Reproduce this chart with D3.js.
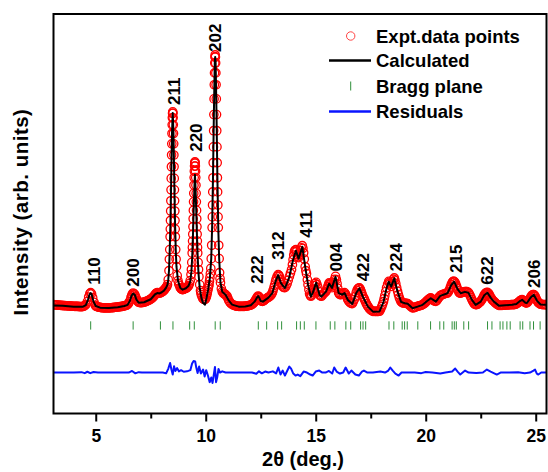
<!DOCTYPE html>
<html><head><meta charset="utf-8">
<script src="https://cdn.jsdelivr.net/npm/d3@7"></script>
<style>
body{margin:0;background:#fff;}
text{font-family:Arial,"Liberation Sans",sans-serif;font-weight:bold;fill:#000;}
</style></head>
<body><svg id="chart" width="548" height="472"></svg>
<script>
// ---------- DATA ----------
const obsPoints = [
[3.08,2900],[3.12,2895],[3.15,2890],[3.2,2885],[3.25,2880],[3.3,2875],[3.35,2870],[3.4,2865],[3.45,2860],[3.5,2855],[3.55,2850],[3.6,2848],[3.65,2845],[3.7,2842],[3.75,2840],[3.8,2835],[3.85,2830],[3.9,2825],[3.95,2820],[4.0,2818],
[4.05,2815],[4.1,2812],[4.15,2810],[4.2,2808],[4.25,2805],[4.3,2802],[4.35,2800],[4.4,2805],[4.45,2820],[4.5,2850],[4.55,2900],[4.62,3050],[4.68,3280],[4.73,3450],[4.77,3500],
[4.81,3440],[4.86,3250],[4.92,3020],[4.98,2870],[5.02,2820],[5.05,2800],[5.1,2785],[5.15,2770],[5.2,2760],[5.25,2750],[5.3,2745],[5.35,2740],[5.4,2738],[5.45,2735],[5.5,2735],[5.55,2735],
[5.6,2738],[5.65,2740],[5.7,2745],[5.75,2750],[5.8,2755],[5.85,2760],[5.9,2768],[5.95,2775],[6.0,2782],[6.05,2790],[6.1,2798],[6.15,2805],[6.2,2815],[6.25,2825],[6.3,2838],[6.35,2850],[6.4,2870],[6.45,2900],[6.49,2960],[6.53,3050],
[6.6,3250],[6.63,3340],[6.66,3420],[6.7,3480],[6.75,3440],[6.78,3380],[6.81,3300],[6.84,3210],[6.88,3120],[6.91,3060],[6.95,3020],[7.0,3005],[7.05,3000],[7.1,3003],[7.15,3010],[7.2,3025],[7.25,3040],[7.3,3065],
[7.35,3090],[7.4,3115],[7.45,3140],[7.5,3180],[7.55,3220],[7.6,3270],[7.65,3330],[7.69,3390],[7.72,3440],[7.76,3480],[7.8,3500],[7.84,3490],[7.88,3480],[7.92,3485],[7.96,3500],[8.0,3530],[8.04,3560],[8.07,3590],[8.1,3620],[8.13,3660],
[8.16,3700],[8.19,3750],[8.228,3800],[8.262,3900],[8.296,4150],[8.33,4600],[8.347,5170],[8.364,5655],[8.381,6297],[8.39,6683],[8.398,7114],
[8.407,7587],[8.415,8100],[8.424,8646],[8.432,9219],[8.441,9805],[8.449,10390],[8.458,10950],[8.466,11470],[8.475,11900],[8.483,12257],
[8.492,12480],[8.5,12550],[8.508,12480],[8.517,12257],[8.526,11900],[8.534,11470],[8.543,10950],[8.551,10390],[8.56,9805],[8.568,9219],
[8.577,8646],[8.585,8100],[8.594,7587],[8.602,7114],[8.611,6683],[8.619,6297],[8.636,5655],[8.653,5170],[8.67,4800],[8.704,4350],
[8.738,4100],[8.772,3950],[8.8,3870],[8.84,3750],[8.87,3710],[8.9,3680],[8.92,3665],[8.95,3650],[8.97,3660],[9.0,3680],[9.03,3695],[9.06,3710],[9.1,3720],[9.125,3740],[9.15,3760],[9.19,3800],[9.222,3850],
[9.258,3950],[9.294,4100],[9.33,4403],[9.348,4660],[9.366,5014],[9.384,5483],[9.393,5765],[9.402,6080],[9.411,6426],[9.42,6800],
[9.429,7199],[9.438,7617],[9.447,8045],[9.456,8472],[9.465,8880],[9.474,9261],[9.483,9580],[9.492,9836],[9.501,9990],[9.51,10050],
[9.519,9990],[9.528,9836],[9.537,9580],[9.546,9261],[9.555,8880],[9.564,8472],[9.573,8045],[9.582,7617],[9.591,7199],[9.6,6800],
[9.609,6426],[9.618,6080],[9.627,5765],[9.636,5483],[9.654,5014],[9.672,4660],[9.69,4300],[9.726,3900],[9.762,3600],[9.78,3500],[9.798,3400],[9.83,3300],
[9.87,3200],[9.91,3170],[9.95,3150],[9.98,3180],[10.0,3220],[10.03,3300],[10.05,3390],[10.07,3480],[10.09,3590],[10.11,3700],[10.13,3800],[10.15,3900],[10.17,4070],[10.19,4250],[10.21,4450],[10.23,4715],
[10.25,5201],[10.27,5871],[10.29,6758],[10.3,7292],[10.31,7887],[10.32,8542],[10.33,9250],[10.34,10005],[10.35,10796],[10.36,11607],
[10.37,12415],[10.38,13200],[10.39,13907],[10.4,14500],[10.41,14995],[10.42,15300],[10.43,15400],[10.44,15300],[10.45,14995],[10.46,14500],
[10.47,13907],[10.48,13200],[10.49,12415],[10.5,11607],[10.51,10796],[10.52,10005],[10.53,9250],[10.54,8542],[10.55,7887],[10.56,7292],
[10.57,6758],[10.59,5871],[10.61,5201],[10.63,4500],[10.65,4200],[10.67,4000],[10.71,3700],[10.75,3550],[10.79,3480],[10.83,3450],[10.86,3430],
[10.9,3400],[10.93,3360],[10.97,3320],[11.01,3210],[11.05,3100],[11.1,3020],[11.15,2950],[11.2,2910],[11.25,2880],[11.3,2860],[11.35,2840],[11.4,2830],[11.45,2820],[11.5,2815],[11.55,2810],[11.6,2810],[11.65,2810],[11.7,2812],[11.75,2815],
[11.8,2822],[11.85,2830],[11.9,2840],[11.95,2850],[12.0,2865],[12.05,2880],[12.1,2910],[12.15,2950],[12.19,3000],[12.22,3050],[12.26,3120],[12.3,3200],[12.34,3270],[12.38,3330],[12.41,3300],[12.44,3250],[12.47,3170],
[12.5,3100],[12.54,3075],[12.58,3060],[12.62,3085],[12.66,3120],[12.7,3160],[12.75,3200],[12.8,3235],[12.85,3270],[12.9,3305],[12.95,3350],[12.99,3420],[13.03,3500],[13.06,3610],[13.1,3750],[13.13,3880],[13.17,4050],[13.2,4180],
[13.24,4300],[13.29,4400],[13.32,4370],[13.35,4300],[13.38,4170],[13.42,4000],[13.46,3890],[13.5,3800],[13.55,3760],[13.6,3750],[13.65,3830],[13.7,3950],[13.75,4120],[13.8,4300],[13.85,4470],[13.9,4650],[13.94,4900],[13.97,5150],
[14.0,5380],[14.03,5550],[14.06,5620],[14.1,5650],[14.13,5560],[14.16,5400],[14.19,5300],[14.22,5250],[14.26,5400],[14.3,5600],[14.34,5740],[14.39,5850],[14.42,5720],[14.45,5500],[14.48,5180],[14.52,4800],[14.55,4600],[14.58,4450],
[14.62,4150],[14.65,3900],[14.69,3650],[14.72,3450],[14.75,3370],[14.78,3320],[14.82,3380],[14.87,3500],[14.91,3680],[14.95,3850],[14.98,3950],[15.02,4015],[15.06,3900],[15.1,3750],[15.14,3560],[15.18,3380],[15.22,3340],[15.26,3320],
[15.31,3380],[15.36,3450],[15.41,3510],[15.47,3565],[15.51,3680],[15.55,3800],[15.58,3900],[15.61,3985],[15.65,3950],[15.68,3900],[15.71,3820],[15.74,3750],[15.78,3860],[15.82,4000],[15.86,4170],[15.9,4315],[15.94,4150],[15.97,3950],
[16.0,3720],[16.04,3500],[16.07,3440],[16.1,3400],[16.15,3405],[16.2,3420],[16.25,3460],[16.31,3500],[16.35,3430],[16.39,3350],[16.43,3240],[16.46,3150],
[16.51,3060],[16.56,3000],[16.61,2965],[16.66,2950],[16.7,3030],[16.75,3150],[16.8,3320],[16.84,3500],[16.88,3620],[16.92,3700],[16.95,3730],[16.99,3735],[17.03,3660],[17.07,3550],[17.11,3420],[17.15,3300],[17.19,3220],[17.22,3150],
[17.26,3050],[17.3,2950],[17.34,2870],[17.37,2815],[17.42,2730],[17.48,2650],[17.54,2600],[17.6,2565],[17.65,2560],[17.7,2560],[17.75,2558],[17.8,2560],[17.85,2562],[17.9,2570],[17.95,2670],[18.0,2800],[18.04,2920],[18.08,3050],
[18.11,3200],[18.14,3350],[18.18,3550],[18.22,3750],[18.27,3930],[18.32,4065],[18.35,4020],[18.38,3950],[18.43,3815],[18.46,3920],[18.5,4050],[18.54,4170],[18.57,4235],[18.6,4120],[18.64,3950],[18.68,3750],[18.72,3565],[18.76,3400],
[18.8,3250],[18.84,3140],[18.88,3050],[18.92,3010],[18.95,2985],
[19.0,2982],[19.05,2980],[19.12,2965],[19.18,2950],[19.23,2900],[19.28,2850],[19.34,2790],[19.4,2735],[19.45,2745],[19.5,2760],[19.56,2785],[19.63,2815],[19.69,2835],[19.75,2850],[19.8,2870],[19.86,2900],[19.91,2935],[19.96,2980],[20.0,3025],[20.05,3080],
[20.1,3130],[20.15,3180],[20.19,3215],[20.23,3235],[20.28,3190],[20.32,3150],[20.36,3110],[20.4,3080],[20.46,3065],[20.51,3120],[20.56,3200],[20.61,3280],[20.66,3350],[20.71,3380],[20.76,3400],[20.82,3425],[20.88,3450],[20.94,3470],[20.99,3485],
[21.04,3560],[21.08,3650],[21.12,3770],[21.16,3900],[21.2,3990],[21.23,4050],[21.26,4060],[21.29,4065],[21.32,4030],[21.36,3950],[21.4,3830],[21.44,3700],[21.48,3590],[21.52,3500],[21.55,3480],[21.59,3485],[21.64,3500],[21.68,3520],[21.73,3535],[21.78,3550],[21.83,3555],
[21.87,3550],[21.94,3515],[21.98,3440],[22.02,3350],[22.06,3250],[22.1,3150],[22.14,3060],[22.18,2980],[22.22,2930],[22.27,2900],[22.31,2905],[22.35,2920],[22.39,2955],[22.43,3000],[22.47,3030],[22.5,3065],[22.54,3130],[22.58,3200],
[22.62,3290],[22.66,3380],[22.7,3440],[22.73,3480],[22.77,3505],[22.8,3515],[22.84,3480],[22.88,3420],[22.92,3330],[22.96,3250],[23.0,3180],[23.04,3120],[23.1,3065],[23.15,3005],[23.2,2950],[23.26,2905],[23.32,2865],[23.37,2862],[23.42,2860],
[23.47,2865],[23.52,2870],[23.57,2875],[23.62,2880],[23.67,2885],[23.72,2890],[23.77,2892],[23.82,2895],[23.88,2898],[23.93,2900],[23.98,2900],[24.03,2900],[24.08,2920],[24.12,2940],[24.17,2975],[24.22,3020],[24.26,3060],[24.3,3100],[24.34,3130],[24.38,3150],
[24.42,3120],[24.46,3080],[24.5,3040],[24.53,3000],[24.56,2985],[24.6,2985],[24.64,3040],[24.68,3100],[24.72,3175],[24.76,3250],[24.8,3320],[24.84,3380],[24.88,3400],[24.91,3400],[24.95,3360],[24.98,3300],[25.02,3200],[25.06,3100],[25.1,3030],[25.13,2985],
[25.18,2950],[25.22,2920],[25.27,2910],[25.32,2900],[25.38,2900],[25.43,2900],[25.48,2900]
];

const calcPoints = [
[3.08,2860],[3.5,2840],[4.0,2800],[4.4,2790],[4.55,2880],[4.65,3150],[4.72,3420],[4.77,3480],[4.82,3400],[4.9,3050],
[5.0,2830],[5.2,2750],[5.6,2730],[6.0,2770],[6.3,2830],[6.45,2890],[6.55,3080],[6.63,3350],[6.7,3450],[6.77,3400],
[6.85,3150],[6.95,3000],[7.2,3020],[7.5,3170],[7.7,3420],[7.8,3480],[7.9,3460],[8.0,3520],[8.1,3600],[8.2,3750],
[8.262,3900],[8.296,4150],[8.33,4600],[8.364,5655],[8.398,7114],[8.432,9219],[8.466,11470],[8.5,12500],[8.534,11470],[8.568,9219],
[8.602,7114],[8.636,5655],[8.67,4800],[8.738,4100],[8.84,3750],[8.95,3650],[9.1,3720],[9.222,3850],[9.294,4050],[9.348,4550],
[9.384,5250],[9.42,6400],[9.456,7800],[9.492,9000],[9.51,9400],[9.528,9000],[9.564,7800],[9.6,6400],[9.636,5250],[9.672,4450],
[9.726,3750],[9.8,3250],[9.87,3000],[9.97,2900],[10.03,3200],[10.11,3650],[10.19,4250],[10.25,5201],[10.29,6758],[10.33,9250],
[10.37,12415],[10.41,14995],[10.43,15300],[10.45,14995],[10.49,12415],[10.53,9250],[10.57,6758],[10.61,5201],[10.67,4000],[10.75,3550],
[10.9,3400],[11.05,3100],[11.2,2900],[11.5,2800],[11.8,2810],[12.05,2870],[12.22,3050],[12.3,3200],[12.38,3330],[12.44,3230],
[12.5,3080],[12.6,3050],[12.85,3250],[13.03,3480],[13.17,4050],[13.29,4380],[13.42,3980],[13.6,3720],[13.8,4280],[13.97,5150],
[14.1,5600],[14.22,5200],[14.39,5800],[14.52,4800],[14.65,3900],[14.78,3300],[14.87,3500],[15.02,4000],[15.18,3370],[15.26,3300],
[15.47,3550],[15.61,3950],[15.74,3740],[15.9,4300],[16.04,3480],[16.2,3400],[16.31,3480],[16.46,3130],[16.66,2930],[16.84,3480],
[16.99,3720],[17.15,3280],[17.37,2800],[17.6,2550],[17.9,2560],[18.08,3030],[18.22,3730],[18.32,4050],[18.43,3800],[18.57,4220],
[18.72,3550],[18.88,3040],[19.05,2970],[19.18,2940],[19.4,2720],[19.63,2800],[19.86,2890],[20.05,3070],[20.23,3220],[20.46,3050],
[20.66,3340],[20.99,3470],[21.16,3880],[21.29,4050],[21.44,3690],[21.59,3470],[21.78,3540],[21.94,3500],[22.1,3140],[22.27,2890],
[22.5,3050],[22.66,3370],[22.8,3500],[22.96,3240],[23.1,3050],[23.32,2850],[23.62,2870],[23.93,2890],[24.12,2930],[24.3,3090],
[24.38,3140],[24.53,2990],[24.6,2980],[24.76,3240],[24.91,3390],[25.06,3090],[25.22,2910],[25.48,2890]
];

const residualPoints = [
[3.08,0],[4.0,0],[4.35,20],[4.5,-30],[4.62,40],[4.75,-30],[4.9,30],[5.1,0],[6.5,0],[6.65,80],
[6.8,-40],[6.95,20],[7.1,0],[8.05,0],[8.2,-40],[8.3,200],[8.38,480],[8.44,150],[8.5,-100],[8.56,320],
[8.62,80],[8.7,220],[8.78,60],[8.88,120],[9.0,40],[9.15,60],[9.3,120],[9.38,450],[9.45,580],[9.52,560],
[9.57,250],[9.63,-20],[9.7,300],[9.78,-50],[9.88,150],[9.95,-200],[10.02,120],[10.1,-150],[10.18,-480],[10.25,-250],
[10.31,-520],[10.36,-150],[10.42,280],[10.47,-480],[10.52,-250],[10.58,180],[10.65,0],[10.75,60],[10.9,0],[12.1,0],
[12.3,-60],[12.42,60],[12.55,-40],[12.7,50],[12.85,0],[13.05,60],[13.2,-40],[13.3,250],[13.4,-100],[13.5,100],
[13.6,-150],[13.7,80],[13.8,300],[13.88,200],[13.98,-50],[14.08,-150],[14.18,-100],[14.3,-180],[14.45,50],[14.6,0],
[14.75,-100],[14.86,-150],[15.0,50],[15.16,100],[15.3,0],[15.45,0],[15.6,80],[15.75,-50],[15.84,250],[15.95,50],
[16.1,-50],[16.25,0],[16.36,250],[16.5,-50],[16.62,100],[16.8,-100],[16.96,-150],[17.1,50],[17.19,100],[17.35,0],
[17.6,0],[17.94,50],[18.15,0],[18.3,100],[18.39,250],[18.5,100],[18.62,-50],[18.77,-150],[18.9,0],[19.5,0],
[19.8,-30],[20.0,30],[20.3,0],[20.66,-50],[20.9,0],[21.2,50],[21.34,200],[21.45,50],[21.57,-100],[21.68,0],
[21.79,100],[21.95,0],[22.3,-20],[22.6,0],[22.78,150],[22.95,50],[23.23,-100],[23.4,0],[23.8,0],[24.2,20],
[24.5,-30],[24.74,0],[24.9,100],[24.97,150],[25.05,-50],[25.12,-100],[25.25,0],[25.48,0]
];

const braggPositions = [4.77,6.70,7.94,8.51,9.27,9.48,10.43,10.66,12.39,12.77,13.27,13.45,14.13,14.30,14.48,15.01,
15.66,15.87,16.37,16.59,17.04,17.15,17.27,18.33,18.55,18.93,19.04,19.16,19.64,20.22,20.64,20.82,21.20,21.30,21.39,
21.73,21.95,22.81,23.01,23.38,23.51,23.69,23.84,24.29,24.41,24.74,24.90,25.20];

const peakLabels     = ["110","200","211","220","202","222","312","411","004","422","224","215","622","206"];
const labelTheta     = [4.92, 6.71, 8.57, 9.57, 10.41, 12.32, 13.29, 14.58, 15.94, 17.13, 18.65, 21.37, 22.78, 24.91];
const labelIntensity = [3900, 3800, 12900, 10550, 15550, 3950, 5150, 6250, 4565, 4065, 4565, 4485, 3900, 3735];

const xMajorTicks = [5, 10, 15, 20, 25];
const xMinorTicks = [7.5, 12.5, 17.5, 22.5];
const legendLabels = ["Expt.data points", "Calculated", "Bragg plane", "Residuals"];
const residualBaseline = -500;      // intensity level where residuals are plotted
const braggRange = [1650, 2065];    // intensity span of Bragg markers

// ---------- LAYOUT ----------
const svg = d3.select("#chart");
const L = 53.5, R = 546.5, T = 14, B = 413.5;
const x = d3.scaleLinear().domain([3.08, 25.49]).range([L, R]);
const y = d3.scaleLinear().domain([-2550, 17450]).range([B, T]);

const plot = svg.append("g");
plot.append("clipPath").attr("id","clip").append("rect")
  .attr("x",L).attr("y",T).attr("width",R-L).attr("height",B-T);
const inner = plot.append("g").attr("clip-path","url(#clip)");

// observed circles
inner.append("g").selectAll("circle").data(obsPoints).join("circle")
  .attr("cx", d => x(d[0])).attr("cy", d => y(d[1])).attr("r", 4.2)
  .attr("fill","none").attr("stroke","#ff0000").attr("stroke-width",1.3);

// calculated line
inner.append("path").datum(calcPoints)
  .attr("d", d3.line().x(d => x(d[0])).y(d => y(d[1])))
  .attr("fill","none").attr("stroke","#000").attr("stroke-width",2).attr("stroke-linejoin","round");

// bragg markers
inner.append("g").selectAll("line").data(braggPositions).join("line")
  .attr("x1", d => x(d)).attr("x2", d => x(d))
  .attr("y1", y(braggRange[0])).attr("y2", y(braggRange[1]))
  .attr("stroke","#2f8f3a").attr("stroke-width",1);

// residuals
inner.append("path").datum(residualPoints)
  .attr("d", d3.line().x(d => x(d[0])).y(d => y(residualBaseline + d[1])))
  .attr("fill","none").attr("stroke","#0a14ff").attr("stroke-width",2).attr("stroke-linejoin","round");

// peak labels
svg.append("g").selectAll("text").data(peakLabels).join("text")
  .attr("transform", (d,i) => `translate(${x(labelTheta[i]) + 6},${y(labelIntensity[i])}) rotate(-90)`)
  .attr("text-anchor","start").style("font-size","17px").text(d => d);

// axes
const ax = svg.append("g").attr("transform",`translate(0,${B})`)
  .call(d3.axisBottom(x).tickValues(xMajorTicks).tickSize(8).tickPadding(8).tickFormat(d3.format("d")));
ax.select(".domain").remove();
ax.selectAll("line").attr("stroke","#000").attr("stroke-width",2);
ax.selectAll("text").style("font-size","17.5px").style("font-family","Arial,'Liberation Sans',sans-serif").style("font-weight","bold");
const axm = svg.append("g").attr("transform",`translate(0,${B})`)
  .call(d3.axisBottom(x).tickValues(xMinorTicks).tickSize(5).tickFormat(""));
axm.select(".domain").remove();
axm.selectAll("line").attr("stroke","#000").attr("stroke-width",2);

// frame
svg.append("rect").attr("x",L).attr("y",T).attr("width",R-L).attr("height",B-T)
  .attr("fill","none").attr("stroke","#000").attr("stroke-width",2);

// axis titles
svg.append("text").attr("x",303).attr("y",466).attr("text-anchor","middle")
  .style("font-size","20px").text("2θ (deg.)");
svg.append("text").attr("transform","translate(28,212) rotate(-90)").attr("text-anchor","middle")
  .style("font-size","20.5px").style("letter-spacing","0.5px").text("Intensity (arb. units)");

// legend
const lg = svg.append("g");
const ly = [36, 60.5, 86, 111.5];
lg.append("circle").attr("cx",350.7).attr("cy",ly[0]).attr("r",4.2)
  .attr("fill","none").attr("stroke","#ff4444").attr("stroke-width",1);
lg.append("line").attr("x1",329).attr("x2",371).attr("y1",ly[1]).attr("y2",ly[1])
  .attr("stroke","#000").attr("stroke-width",2.5);
lg.append("line").attr("x1",350.7).attr("x2",350.7).attr("y1",ly[2]-4.5).attr("y2",ly[2]+4.5)
  .attr("stroke","#2f8f3a").attr("stroke-width",1);
lg.append("line").attr("x1",329).attr("x2",371).attr("y1",ly[3]).attr("y2",ly[3])
  .attr("stroke","#0a14ff").attr("stroke-width",2.5);
lg.selectAll("text").data(legendLabels).join("text")
  .attr("x",376).attr("y",(d,i) => ly[i] + 6.5).style("font-size","18.5px").text(d => d);
</script>
</body></html>
